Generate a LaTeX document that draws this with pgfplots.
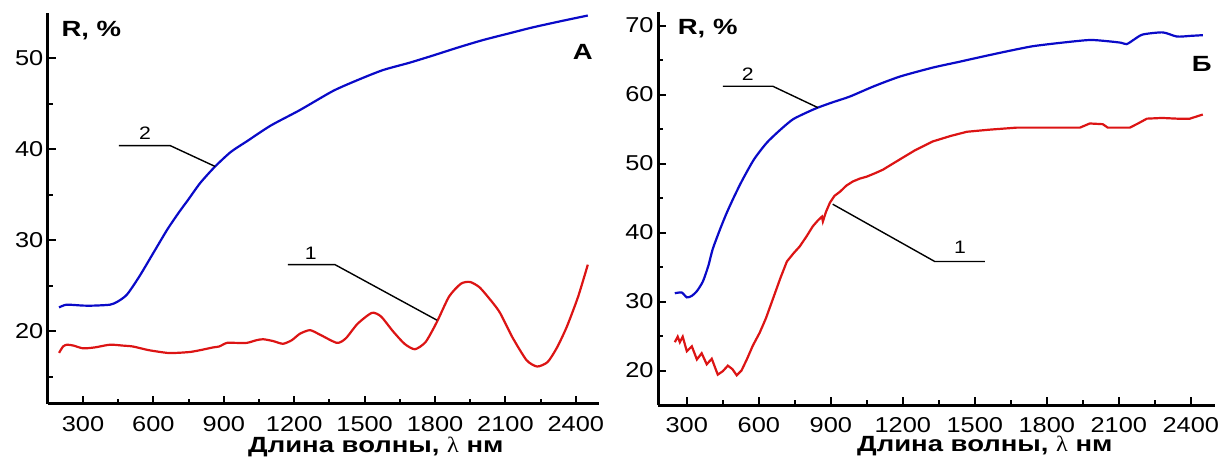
\documentclass[border=0pt]{standalone}
\usepackage{fontspec}
\setmainfont{Liberation Sans}
\newfontfamily\widen{Liberation Sans}[FakeStretch=1.18]
\newfontfamily\wideb{Liberation Sans}[FakeStretch=1.25]
\newfontfamily\serifl{Liberation Serif}[FakeStretch=1.1]
\usepackage{pgfplots}
\pgfplotsset{compat=1.18}

\definecolor{cblue}{RGB}{10,10,200}
\definecolor{cred}{RGB}{220,20,20}

\newcommand{\tickfont}{\fontsize{21.5}{24}\selectfont\widen}
\newcommand{\numfont}{\fontsize{18}{20}\selectfont\widen}
\newcommand{\lab}[1]{{\fontsize{22}{24}\selectfont\wideb\bfseries #1}}

\pgfplotsset{
  spec/.style={
    scale only axis, axis lines*=left, clip=false,
    axis line style={line width=3pt},
    tick align=inside, major tick length=8pt, minor tick length=5pt,
    every tick/.style={line width=2pt, black},
    tick label style={font=\tickfont},
    /pgf/number format/assume math mode=true,
    /pgf/number format/1000 sep={},
    xtick={300,600,...,2400}, minor xtick={450,750,...,2250},
    xticklabel style={yshift=-9pt},
    yticklabel style={xshift=-1pt},
  },
  curve/.style={line width=2.2pt, smooth, tension=0.4},
}
\tikzset{lead/.style={line width=1.4pt, black},
  num/.style={font=\numfont}}

\begin{document}
\begin{tikzpicture}
\useasboundingbox (0,0) rectangle (1223pt,458pt);

% panel A
\begin{axis}[spec, at={(47.8pt,54.2pt)}, anchor=south west,
  width=551.5pt, height=391pt,
  xmin=150, xmax=2500, ymin=12, ymax=55,
  ytick={20,30,40,50}, minor ytick={15,25,35,45}]
\addplot[curve, cblue] coordinates {
(198,22.6)(230,22.9)(300,22.8)(350,22.8)(415,22.9)(445,23.2)(487,24.0)(540,26.0)
(600,28.6)(660,31.2)(710,33.1)(747,34.4)(800,36.3)(863,38.1)(930,39.7)
(1000,40.9)(1100,42.6)(1224,44.3)(1365,46.4)(1470,47.6)(1578,48.7)(1690,49.5)
(1791,50.3)(1900,51.2)(2004,52.0)(2110,52.7)(2217,53.4)(2340,54.1)(2451,54.7)};
\addplot[curve, cred] coordinates {
(198,17.6)(215,18.3)(232,18.5)(260,18.4)(300,18.1)(350,18.2)(415,18.5)(470,18.4)
(513,18.3)(580,17.9)(658,17.6)(700,17.6)(756,17.7)(800,17.9)(854,18.2)(880,18.3)
(913,18.7)(950,18.7)(998,18.7)(1040,19.0)(1068,19.1)(1110,18.9)(1152,18.6)
(1190,19.0)(1224,19.7)(1267,20.1)(1310,19.6)(1382,18.7)(1420,19.2)(1470,20.8)
(1531,22.0)(1570,21.6)(1620,20.0)(1670,18.6)(1714,18.0)(1760,18.8)(1808,21.0)
(1860,23.8)(1910,25.2)(1949,25.4)(1990,24.8)(2040,23.3)(2077,22.0)(2130,19.3)
(2190,16.8)(2235,16.1)(2280,16.6)(2320,18.2)(2362,20.5)(2410,23.8)(2451,27.3)};
\draw[lead] (axis cs:453,40.4) -- (axis cs:671,40.4) -- (axis cs:863,38.1);
\node[num] at (axis cs:564,41.8) {2};
\draw[lead] (axis cs:1173,27.3) -- (axis cs:1374,27.3) -- (axis cs:1808,21.2);
\node[num] at (axis cs:1271,28.5) {1};
\node[anchor=west, inner sep=0pt] at (axis cs:208,53.1) {\lab{R, \%}};
\node[inner sep=0pt] at (axis cs:2430,50.7) {\lab{А}};
\node[inner sep=0pt] at (axis cs:1548,7.25) {\lab{Длина волны, {\serifl\mdseries λ} нм}};
\end{axis}

% panel B
\begin{axis}[spec, at={(658pt,53pt)}, anchor=south west,
  width=556.8pt, height=393.3pt,
  xmin=180, xmax=2500, ymin=15, ymax=72,
  ytick={20,30,...,70}, minor ytick={25,35,...,65}]
\addplot[curve, cblue] coordinates {
(250,31.2)(279,31.3)(300,30.6)(320,30.8)(342,31.5)(367,32.9)(390,35.2)(408,37.6)
(440,40.6)(467,42.9)(500,45.4)(533,47.7)(580,50.6)(633,53.0)(690,54.9)(742,56.4)
(800,57.4)(846,58.1)(910,58.9)(979,59.7)(1080,61.2)(1188,62.6)(1325,63.9)(1430,64.7)
(1533,65.5)(1640,66.3)(1742,67.0)(1860,67.5)(1979,67.9)(2060,67.7)(2110,67.5)
(2133,67.3)(2165,68.0)(2200,68.7)(2283,69.0)(2342,68.4)(2400,68.5)(2450,68.6)};
\addplot[line width=2.2pt, cred] coordinates {
(250,24.1)(262,24.9)(271,24.1)(283,24.9)(300,22.8)(321,23.5)(342,21.6)(362,22.5)
(383,20.9)(404,21.7)(429,19.4)(450,19.9)(471,20.7)(490,20.2)(508,19.3)(528,20.0)
(550,21.6)(575,23.6)(604,25.5)(630,27.6)(658,30.3)(690,33.4)(717,35.8)(745,37.0)
(771,38.0)(800,39.5)(825,40.9)(845,41.7)(863,42.3)(867,41.6)(880,43.0)(896,44.3)
(915,45.3)(938,45.9)(965,46.8)(992,47.4)(1020,47.8)(1050,48.1)(1085,48.6)
(1117,49.1)(1150,49.8)(1188,50.6)(1250,51.9)(1325,53.2)(1400,54.0)(1467,54.6)
(1560,54.9)(1675,55.2)(1770,55.2)(1867,55.2)(1938,55.2)(1979,55.8)(2033,55.7)
(2054,55.2)(2100,55.2)(2146,55.2)(2180,55.8)(2217,56.5)(2280,56.6)(2342,56.5)
(2396,56.5)(2450,57.1)};
\draw[lead] (axis cs:450,61.2) -- (axis cs:658,61.2) -- (axis cs:846,58.1);
\node[num] at (axis cs:554,62.9) {2};
\draw[lead] (axis cs:908,44.1) -- (axis cs:1333,35.8) -- (axis cs:1542,35.8);
\node[num] at (axis cs:1438,37.8) {1};
\node[anchor=west, inner sep=0pt] at (axis cs:262,69.6) {\lab{R, \%}};
\node[inner sep=0pt] at (axis cs:2446,64.4) {\lab{Б}};
\node[inner sep=0pt] at (axis cs:1542,9.0) {\lab{Длина волны, {\serifl\mdseries λ} нм}};
\end{axis}
\end{tikzpicture}
\end{document}
